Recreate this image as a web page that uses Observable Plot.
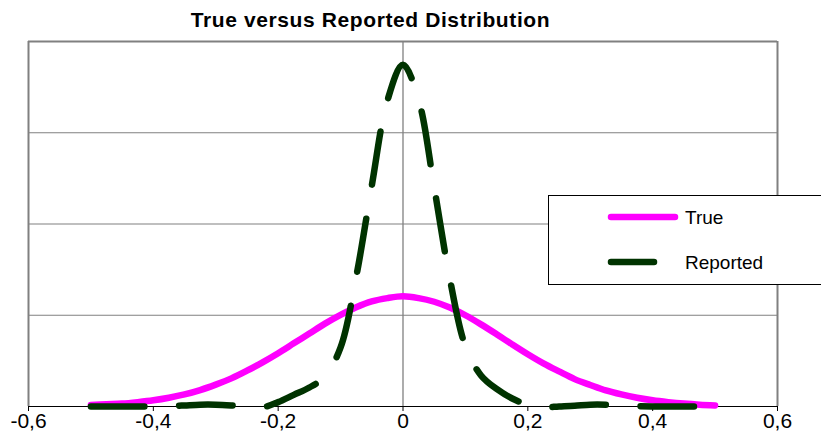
<!DOCTYPE html>
<html>
<head>
<meta charset="utf-8">
<script src="https://cdn.jsdelivr.net/npm/d3@7"></script>
<script src="https://cdn.jsdelivr.net/npm/@observablehq/plot@0.6"></script>
<style>
  body { margin: 0; background: #fff; }
  #chart { position: relative; width: 821px; height: 444px; font-family: "Liberation Sans", Arial, sans-serif; }
  #chart svg { position: absolute; left: 0; top: 0; }
</style>
</head>
<body>
<div id="chart"></div>
<script>
const title = "True versus Reported Distribution";
const seriesNames = ["True", "Reported"];
const seriesColors = ["#ff00ff", "#003300"];

// deviation values (x axis)
const xs = [
  -0.500, -0.475, -0.450, -0.425, -0.400, -0.375, -0.350, -0.325, -0.300, -0.275,
  -0.250, -0.225, -0.200, -0.175, -0.150, -0.125, -0.100, -0.075, -0.050, -0.025,
   0.000,
   0.025,  0.050,  0.075,  0.100,  0.125,  0.150,  0.175,  0.200,  0.225,  0.250,
   0.275,  0.300,  0.325,  0.350,  0.375,  0.400,  0.425,  0.450,  0.475,  0.500
];

// density of the true distribution
const trueValues = [
  0.04, 0.06, 0.08, 0.12, 0.17, 0.24, 0.33, 0.45, 0.60, 0.77,
  0.98, 1.21, 1.46, 1.73, 2.00, 2.27, 2.51, 2.72, 2.88, 2.97,
  3.02,
  2.97, 2.87, 2.71, 2.50, 2.25, 1.98, 1.70, 1.43, 1.18, 0.96,
  0.75, 0.59, 0.44, 0.33, 0.24, 0.17, 0.12, 0.08, 0.05, 0.03
];

// density of the reported distribution
const reportedValues = [
  0.00, 0.00, 0.00, 0.00, 0.00, 0.01, 0.03, 0.05, 0.05, 0.03,
  0.00, -0.02, 0.12, 0.32, 0.52, 0.82, 1.62, 3.55, 6.05, 8.38,
  9.36,
  8.40, 6.00, 3.50, 1.65, 0.85, 0.48, 0.22, 0.05, -0.02, 0.00,
  0.02, 0.05, 0.05, 0.03, 0.01, 0.00, 0.00, 0.00, 0.00, 0.00
];

const xTicks = [-0.6, -0.4, -0.2, 0, 0.2, 0.4, 0.6];
const yGrid = [2.5, 5, 7.5];
const xDomain = [-0.6, 0.6];
const yDomain = [0, 10];

const trueData = xs.map((x, i) => ({x, y: trueValues[i]}));
const reportedData = xs.map((x, i) => ({x, y: reportedValues[i]}));

// decimal comma tick labels
const fmt = v => v === 0 ? "0" : v.toFixed(1).replace(".", ",");

const plot = Plot.plot({
  width: 821,
  height: 444,
  marginLeft: 28,
  marginRight: 44,
  marginTop: 41,
  marginBottom: 38,
  style: { fontFamily: "'Liberation Sans', Arial, sans-serif", background: "#fff", overflow: "visible" },
  x: { domain: xDomain, axis: null },
  y: { domain: yDomain, axis: null },
  marks: [
    Plot.gridY(yGrid, { stroke: "#808080", strokeOpacity: 1, strokeWidth: 1.2 }),
    Plot.ruleY([yDomain[1]], { stroke: "#808080", strokeWidth: 2 }),
    Plot.ruleX([xDomain[0], xDomain[1]], { stroke: "#808080", strokeWidth: 2 }),
    Plot.ruleX([0], { stroke: "#808080", strokeWidth: 1.3 }),
    Plot.ruleY([0], { stroke: "#000", strokeWidth: 1 }),
    Plot.axisX({
      ticks: xTicks, tickFormat: fmt, tickSize: 5, tickPadding: 2, label: null,
      fontSize: 21, stroke: "#000", color: "#000"
    }),
    Plot.line(trueData, {
      x: "x", y: "y", curve: "catmull-rom",
      stroke: seriesColors[0], strokeWidth: 6.5, strokeLinecap: "round", strokeLinejoin: "round"
    }),
    Plot.line(reportedData, {
      x: "x", y: "y", curve: "catmull-rom",
      stroke: seriesColors[1], strokeWidth: 6.5, strokeLinecap: "round", strokeLinejoin: "round",
      strokeDasharray: "53.5,34.7"
    })
  ]
});

const chart = document.getElementById("chart");
chart.appendChild(plot);

// title and legend overlay
const overlay = d3.select(chart).append("svg")
  .attr("width", 821).attr("height", 444)
  .style("pointer-events", "none")
  .style("font-family", "'Liberation Sans', Arial, sans-serif");

overlay.append("text")
  .attr("x", 370.5).attr("y", 27)
  .attr("text-anchor", "middle")
  .attr("font-weight", "bold")
  .attr("font-size", 21)
  .attr("letter-spacing", 0.6)
  .attr("fill", "#000")
  .text(title);

const legend = overlay.append("g");
legend.append("rect")
  .attr("x", 548.5).attr("y", 195.5)
  .attr("width", 300).attr("height", 89)
  .attr("fill", "#fff").attr("stroke", "#000").attr("stroke-width", 1);

const rows = [
  { name: seriesNames[0], color: seriesColors[0], x2: 675, y: 217 },
  { name: seriesNames[1], color: seriesColors[1], x2: 654, y: 262 }
];
rows.forEach(r => {
  legend.append("line")
    .attr("x1", 611).attr("x2", r.x2).attr("y1", r.y).attr("y2", r.y)
    .attr("stroke", r.color).attr("stroke-width", 6.5).attr("stroke-linecap", "round");
  legend.append("text")
    .attr("x", 685).attr("y", r.y + 7)
    .attr("font-size", 19).attr("fill", "#000")
    .text(r.name);
});
</script>
</body>
</html>
